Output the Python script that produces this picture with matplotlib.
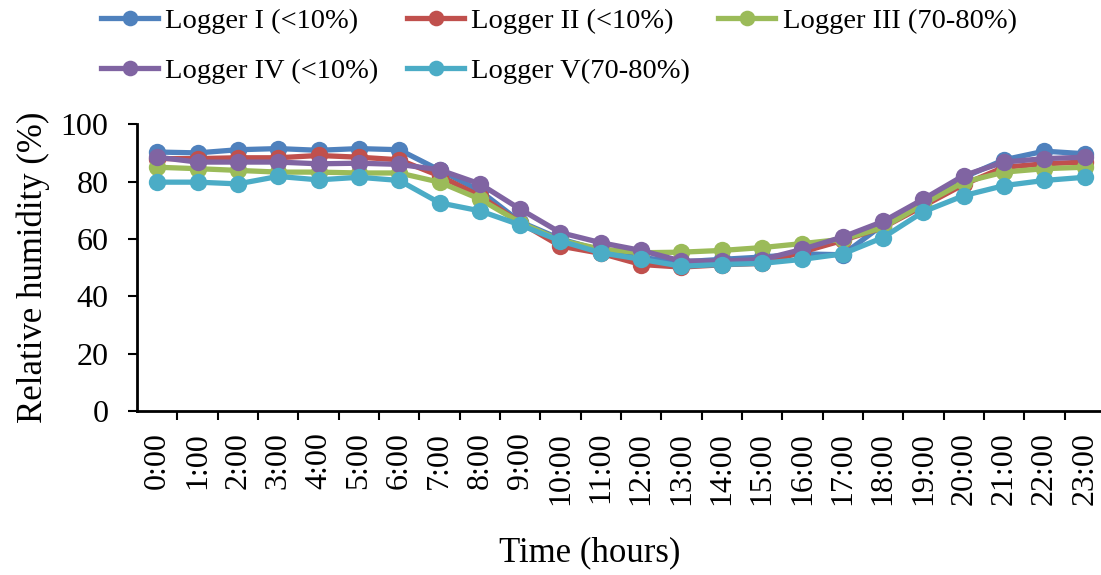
import numpy as np
import matplotlib
matplotlib.use("Agg")
import matplotlib.pyplot as plt
from matplotlib.ticker import MultipleLocator

plt.rcParams['font.family'] = ['Liberation Serif', 'DejaVu Serif']

# horas del dia
horas = [f"{h}:00" for h in range(24)]

# humedad relativa (%) de cada logger
logger_1 = [90.3, 90.0, 91.1, 91.5, 90.9, 91.5, 91.1, 84.0, 76.8, 66.0, 60.0, 56.0,
            53.5, 52.0, 52.9, 53.7, 54.8, 54.5, 65.0, 73.0, 81.5, 87.6, 90.6, 89.7]
logger_2 = [88.0, 88.0, 88.3, 88.3, 89.1, 88.5, 87.6, 82.0, 75.0, 65.7, 57.5, 55.0,
            51.1, 50.2, 51.0, 51.5, 55.5, 59.5, 64.0, 71.5, 79.0, 85.0, 86.2, 86.8]
logger_3 = [85.0, 84.5, 83.9, 83.3, 83.3, 83.0, 83.0, 79.8, 73.9, 65.7, 59.5, 56.5,
            55.2, 55.4, 56.0, 57.0, 58.4, 59.9, 64.0, 72.2, 79.8, 83.3, 84.5, 85.0]
logger_4 = [88.5, 86.8, 86.8, 86.8, 86.2, 86.4, 86.0, 84.1, 79.2, 70.4, 62.2, 58.7,
            56.0, 52.3, 52.3, 52.8, 56.4, 60.7, 66.1, 73.9, 82.1, 86.8, 88.0, 88.5]
logger_5 = [79.8, 79.8, 79.2, 81.8, 80.6, 81.5, 80.4, 72.6, 69.8, 64.9, 59.3, 55.2,
            52.9, 50.5, 51.1, 51.5, 52.9, 54.8, 60.5, 69.5, 75.1, 78.6, 80.4, 81.5]

series = [
    ("Logger I (<10%)", logger_1, "#4F81BD"),
    ("Logger II (<10%)", logger_2, "#C0504D"),
    ("Logger III (70-80%)", logger_3, "#9BBB59"),
    ("Logger IV (<10%)", logger_4, "#8064A2"),
    ("Logger V(70-80%)", logger_5, "#4BACC6"),
]

fig = plt.figure(figsize=(11.01, 5.75), dpi=100)
ax = fig.add_axes([0.1245, 0.285, 0.879, 0.499])

x = np.arange(len(horas))
lineas = []
for nombre, valores, color in series:
    l, = ax.plot(x, valores, color=color, lw=3.8, marker='o', ms=12.5, mew=0,
                 label=nombre, solid_joinstyle='round')
    lineas.append(l)

ax.set_xlim(-0.5, len(horas) - 0.5)
ax.set_ylim(0, 100)
ax.yaxis.set_major_locator(MultipleLocator(20))

# etiquetas en el centro, marcas entre categorias (estilo Excel)
ax.set_xticks(x)
ax.set_xticklabels(horas, rotation=90, fontsize=23)
ax.set_xticks(np.arange(0.5, len(horas) - 0.5, 1), minor=True)
ax.tick_params(axis='x', which='major', length=0, pad=15)
ax.tick_params(axis='x', which='minor', length=6.5, width=1.5, direction='out')
ax.tick_params(axis='y', length=6.5, width=1.5, direction='out', labelsize=23, pad=14)

for lado in ['top', 'right']:
    ax.spines[lado].set_visible(False)
for lado in ['left', 'bottom']:
    ax.spines[lado].set_linewidth(2)

ax.set_ylabel("Relative humidity (%)", fontsize=25, labelpad=8)
ax.set_xlabel("Time (hours)", fontsize=25)
ax.xaxis.set_label_coords(0.468, -0.436)

# orden para que quede I, II, III arriba y IV, V abajo
orden = [0, 3, 1, 4, 2]
leg = fig.legend([lineas[i] for i in orden], [series[i][0] for i in orden],
                 ncol=3, loc='upper left', bbox_to_anchor=(0.0687, 1.031),
                 frameon=False, fontsize=20.5, handlelength=2.0, handletextpad=0.25,
                 columnspacing=1.0, labelspacing=0.84, markerscale=0.9)

fig.savefig("out.png", dpi=100)
